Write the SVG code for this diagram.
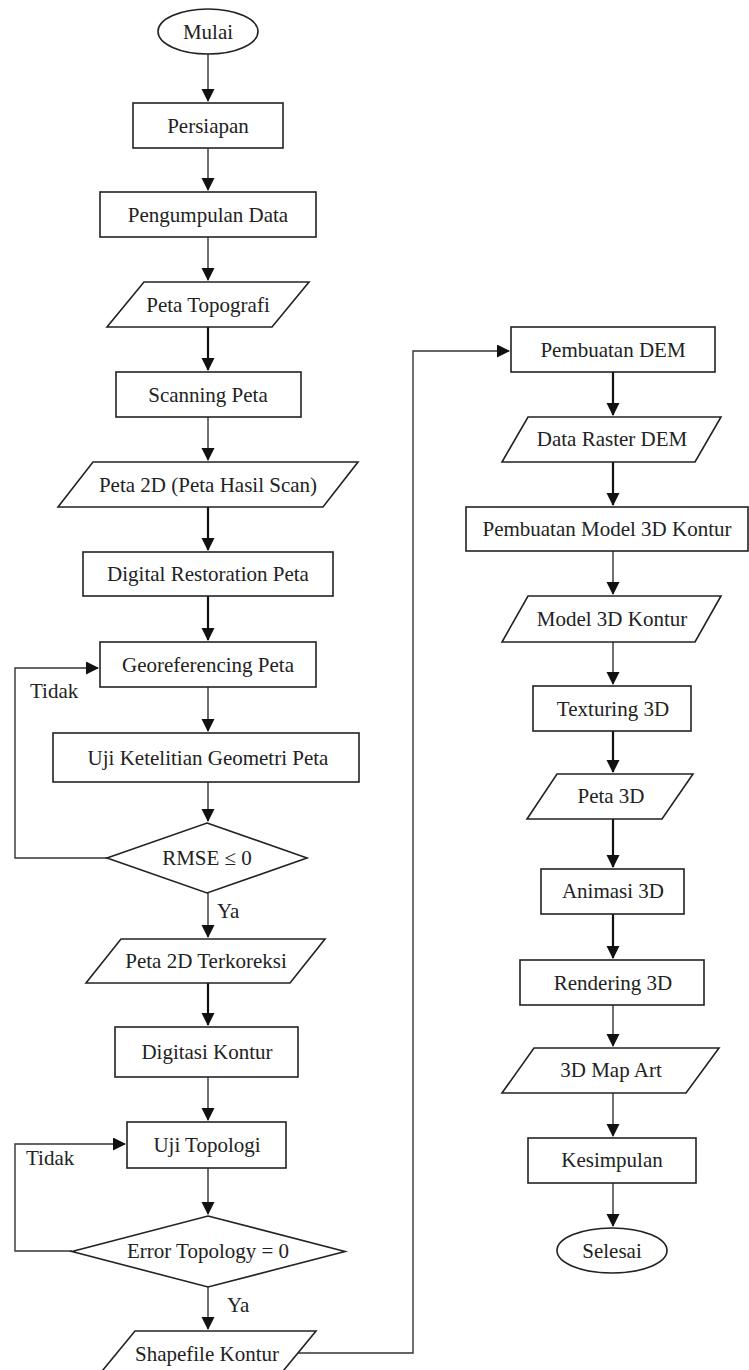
<svg xmlns="http://www.w3.org/2000/svg" width="749" height="1370" viewBox="0 0 749 1370" font-family="Liberation Serif, Times New Roman, serif" font-size="21">
<style>
.s{fill:#fff;stroke:#222;stroke-width:1.6}
text{fill:#222}
.t{text-anchor:middle}
.c{fill:none;stroke:#333;stroke-width:1.4}
.k{fill:none;stroke:#111;stroke-width:2.2}
</style>
<defs>
<marker id="a" markerUnits="userSpaceOnUse" markerWidth="14" markerHeight="14" refX="12" refY="6.5" orient="auto">
<path d="M0,0 L13,6.5 L0,13 z" fill="#111"/>
</marker>
</defs>
<rect width="749" height="1370" fill="#fff"/>
<g id="connectors">
<path class="c" d="M208,54 V101" marker-end="url(#a)"/>
<path class="c" d="M208,148 V190" marker-end="url(#a)"/>
<path class="c" d="M208,237 V280" marker-end="url(#a)"/>
<path class="k" d="M208,327 V370" marker-end="url(#a)"/>
<path class="c" d="M208,417 V460" marker-end="url(#a)"/>
<path class="k" d="M208,507 V550" marker-end="url(#a)"/>
<path class="k" d="M208,596 V640" marker-end="url(#a)"/>
<path class="c" d="M208,687 V731" marker-end="url(#a)"/>
<path class="c" d="M208,782 V821" marker-end="url(#a)"/>
<path class="c" d="M208,893 V937" marker-end="url(#a)"/>
<path class="c" d="M107,858 H15 V668 H98" marker-end="url(#a)"/>
<path class="k" d="M208,983 V1025" marker-end="url(#a)"/>
<path class="c" d="M208,1077 V1120" marker-end="url(#a)"/>
<path class="c" d="M208,1168 V1214" marker-end="url(#a)"/>
<path class="c" d="M72,1251 H15 V1144 H125" marker-end="url(#a)"/>
<path class="c" d="M208,1287 V1329" marker-end="url(#a)"/>
<path class="c" d="M298,1353 H413 V351 H509" marker-end="url(#a)"/>
<path class="k" d="M613,372 V415" marker-end="url(#a)"/>
<path class="k" d="M613,462 V505" marker-end="url(#a)"/>
<path class="c" d="M613,551 V594" marker-end="url(#a)"/>
<path class="c" d="M613,642 V684" marker-end="url(#a)"/>
<path class="k" d="M613,731 V772" marker-end="url(#a)"/>
<path class="k" d="M613,819 V867" marker-end="url(#a)"/>
<path class="k" d="M613,914 V958" marker-end="url(#a)"/>
<path class="c" d="M613,1005 V1046" marker-end="url(#a)"/>
<path class="c" d="M613,1093 V1136" marker-end="url(#a)"/>
<path class="c" d="M613,1183 V1226" marker-end="url(#a)"/>
<text x="30" y="698">Tidak</text>
<text x="217" y="918">Ya</text>
<text x="26" y="1165">Tidak</text>
<text x="227" y="1312">Ya</text>
</g>
<g id="mulai"><ellipse class="s" cx="208" cy="31.5" rx="50" ry="22.5"/><text class="t" x="208" y="39">Mulai</text></g>
<g id="persiapan"><rect class="s" x="133" y="103" width="150" height="45"/><text class="t" x="208" y="133">Persiapan</text></g>
<g id="pengumpulan"><rect class="s" x="100" y="192" width="216" height="45"/><text class="t" x="208" y="222">Pengumpulan Data</text></g>
<g id="peta-topografi"><polygon class="s" points="144,282 309,282 272,327 107,327"/><text class="t" x="208" y="312">Peta Topografi</text></g>
<g id="scanning"><rect class="s" x="116" y="372" width="185" height="45"/><text class="t" x="208" y="402">Scanning Peta</text></g>
<g id="peta-2d"><polygon class="s" points="93,462 358,462 323,507 58,507"/><text class="t" x="208" y="492">Peta 2D (Peta Hasil Scan)</text></g>
<g id="digital-restoration"><rect class="s" x="83" y="552" width="250" height="44"/><text class="t" x="208" y="581">Digital Restoration Peta</text></g>
<g id="georeferencing"><rect class="s" x="100" y="642" width="216" height="45"/><text class="t" x="208" y="672">Georeferencing Peta</text></g>
<g id="uji-ketelitian"><rect class="s" x="53" y="733" width="306" height="49"/><text class="t" x="208" y="765">Uji Ketelitian Geometri Peta</text></g>
<g id="rmse"><polygon class="s" points="207,823 307,858 207,893 107,858"/><text class="t" x="207" y="865">RMSE ≤ 0</text></g>
<g id="peta-2d-terkoreksi"><polygon class="s" points="121,939 325,939 290,983 86,983"/><text class="t" x="206" y="968">Peta 2D Terkoreksi</text></g>
<g id="digitasi"><rect class="s" x="115" y="1027" width="183" height="50"/><text class="t" x="207" y="1059">Digitasi Kontur</text></g>
<g id="uji-topologi"><rect class="s" x="127" y="1122" width="159" height="46"/><text class="t" x="207" y="1152">Uji Topologi</text></g>
<g id="error-topology"><polygon class="s" points="208,1216 345,1251.5 208,1287 72,1251.5"/><text class="t" x="208" y="1258">Error Topology = 0</text></g>
<g id="shapefile"><polygon class="s" points="135,1331 316,1331 279,1376 98,1376"/><text class="t" x="207" y="1361">Shapefile Kontur</text></g>
<g id="pembuatan-dem"><rect class="s" x="511" y="327" width="204" height="45"/><text class="t" x="613" y="357">Pembuatan DEM</text></g>
<g id="data-raster"><polygon class="s" points="528,417 721,417 695,462 502,462"/><text class="t" x="612" y="446">Data Raster DEM</text></g>
<g id="pembuatan-model"><rect class="s" x="466" y="507" width="282" height="44"/><text class="t" x="607" y="536">Pembuatan Model 3D Kontur</text></g>
<g id="model-3d"><polygon class="s" points="528,596 721,596 695,642 502,642"/><text class="t" x="612" y="626">Model 3D Kontur</text></g>
<g id="texturing"><rect class="s" x="533" y="686" width="158" height="45"/><text class="t" x="613" y="716">Texturing 3D</text></g>
<g id="peta-3d"><polygon class="s" points="557,774 693,774 662,819 527,819"/><text class="t" x="611" y="803">Peta 3D</text></g>
<g id="animasi"><rect class="s" x="541" y="869" width="143" height="45"/><text class="t" x="613" y="898">Animasi 3D</text></g>
<g id="rendering"><rect class="s" x="520" y="960" width="184" height="45"/><text class="t" x="613" y="990">Rendering 3D</text></g>
<g id="map-art"><polygon class="s" points="534,1048 719,1048 686,1093 502,1093"/><text class="t" x="611" y="1077">3D Map Art</text></g>
<g id="kesimpulan"><rect class="s" x="528" y="1138" width="168" height="45"/><text class="t" x="612" y="1167">Kesimpulan</text></g>
<g id="selesai"><ellipse class="s" cx="612" cy="1250.5" rx="55" ry="22.5"/><text class="t" x="612" y="1258">Selesai</text></g>
</svg>
